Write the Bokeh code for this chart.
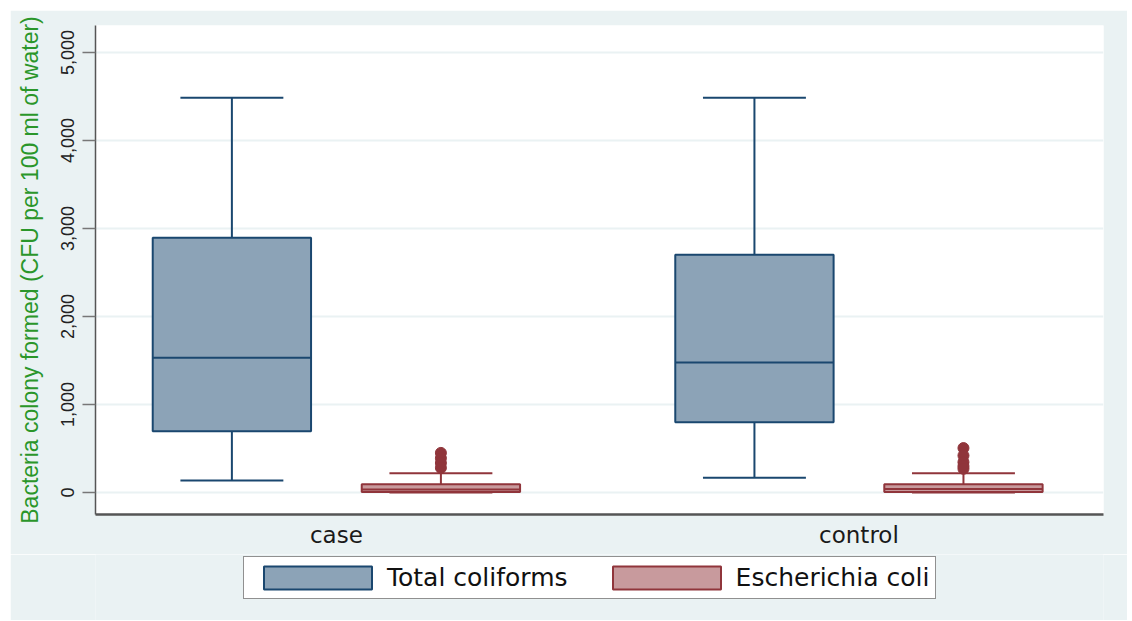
from bokeh.plotting import figure
from bokeh.layouts import column
from bokeh.models import (Range1d, FixedTicker, NumeralTickFormatter, Legend, LegendItem,
                          ColumnDataSource)
from bokeh.embed import file_html
from bokeh.resources import INLINE

# ---------------- data ----------------
groups = ["case", "control"]
series = ["Total coliforms", "Escherichia coli"]

tc_lower = [136, 167]
tc_q1 = [697, 799]
tc_median = [1530, 1477]
tc_q3 = [2894, 2701]
tc_upper = [4485, 4485]

ec_lower = [0, 0]
ec_q1 = [5, 5]
ec_median = [35, 40]
ec_q3 = [95, 95]
ec_upper = [220, 220]

ec_outliers_case = [450, 390, 335, 280]
ec_outliers_control = [505, 420, 345, 300, 270]

y_ticks = [0, 1000, 2000, 3000, 4000, 5000]
y_label = "Bacteria colony formed (CFU per 100 ml of water)"

# ---------------- style / layout ----------------
NAVY = "#1a476f"
NAVY_FILL = "#8ca3b7"
MAROON = "#90353b"
MAROON_FILL = "#c89a9d"
PANEL = "#eaf2f3"

offset = 0.2
box_w = 0.303
cap_w = 0.197

p = figure(output_backend="svg", toolbar_location=None,
           x_range=Range1d(-0.461, 1.468), y_range=Range1d(-250, 5307),
           frame_width=1008, frame_height=489,
           min_border_left=85, min_border_right=24, min_border_top=15, min_border_bottom=40)
p.margin = (10, 0, 0, 10)
p.border_fill_color = PANEL
p.background_fill_color = "white"
p.outline_line_color = None

gx = list(range(len(groups)))


def draw_box(xc, lower, q1, med, q3, upper, line, fill):
    src = ColumnDataSource(dict(
        x=xc, left=[x - box_w / 2 for x in xc], right=[x + box_w / 2 for x in xc],
        cl=[x - cap_w / 2 for x in xc], cr=[x + cap_w / 2 for x in xc],
        lower=lower, q1=q1, med=med, q3=q3, upper=upper))
    p.segment(x0="x", x1="x", y0="q3", y1="upper", source=src, line_color=line, line_width=2)
    p.segment(x0="x", x1="x", y0="lower", y1="q1", source=src, line_color=line, line_width=2)
    p.segment(x0="cl", x1="cr", y0="upper", y1="upper", source=src, line_color=line, line_width=2)
    p.segment(x0="cl", x1="cr", y0="lower", y1="lower", source=src, line_color=line, line_width=2)
    r = p.quad(left="left", right="right", bottom="q1", top="q3", source=src,
               fill_color=fill, line_color=line, line_width=2)
    p.segment(x0="left", x1="right", y0="med", y1="med", source=src, line_color=line, line_width=2)
    return r


draw_box([g - offset for g in gx], tc_lower, tc_q1, tc_median, tc_q3, tc_upper, NAVY, NAVY_FILL)
draw_box([g + offset for g in gx], ec_lower, ec_q1, ec_median, ec_q3, ec_upper, MAROON, MAROON_FILL)

ox = [gx[0] + offset] * len(ec_outliers_case) + [gx[1] + offset] * len(ec_outliers_control)
oy = ec_outliers_case + ec_outliers_control
p.scatter(ox, oy, size=11, marker="circle", fill_color=MAROON, line_color=MAROON)

# ---------------- axes ----------------
p.xgrid.visible = False
p.ygrid.grid_line_color = PANEL
p.ygrid.grid_line_width = 2
p.ygrid.ticker = FixedTicker(ticks=y_ticks)

ya = p.yaxis[0]
ya.ticker = FixedTicker(ticks=y_ticks)
ya.formatter = NumeralTickFormatter(format="0,0")
ya.major_label_orientation = "vertical"
ya.major_label_text_font = "Liberation Sans"
ya.major_label_text_font_size = "18px"
ya.major_label_text_color = "#222222"
ya.major_tick_out = 13
ya.major_tick_in = 0
ya.major_tick_line_color = "#777777"
ya.major_tick_line_width = 1.5
ya.minor_tick_line_color = None
ya.axis_line_color = "#555555"
ya.axis_line_width = 1.5
ya.major_label_standoff = 8
ya.axis_label = y_label
ya.axis_label_text_font = "Liberation Sans"
ya.axis_label_text_font_size = "23px"
ya.axis_label_text_font_style = "normal"
ya.axis_label_text_color = "#2a962a"
ya.axis_label_standoff = 16

xa = p.xaxis[0]
xa.ticker = FixedTicker(ticks=gx)
xa.major_label_overrides = {g: name for g, name in zip(gx, groups)}
xa.major_label_text_font = "DejaVu Sans"
xa.major_label_text_font_size = "23px"
xa.major_label_text_color = "#1a1a1a"
xa.major_tick_line_color = None
xa.minor_tick_line_color = None
xa.major_tick_out = 0
xa.major_label_standoff = 7
xa.axis_line_color = "#555555"
xa.axis_line_width = 2.5

# ---------------- legend strip (same grey panel, below the plot) ----------------
lf = figure(width=1117, height=66, output_backend="svg", toolbar_location=None,
            x_axis_type=None, y_axis_type=None,
            x_range=Range1d(0, 1), y_range=Range1d(0, 1),
            min_border_left=0, min_border_right=0, min_border_top=0, min_border_bottom=0)
lf.margin = (0, 0, 0, 10)
lf.border_fill_color = PANEL
lf.background_fill_color = PANEL
lf.outline_line_color = None
lf.xgrid.visible = False
lf.ygrid.visible = False

# legend keys: renderers with no drawable geometry that carry the series styles
nan = float("nan")
k_tc = lf.quad(left=[nan], right=[nan], bottom=[nan], top=[nan],
               fill_color=NAVY_FILL, line_color=NAVY, line_width=2)
k_ec = lf.quad(left=[nan], right=[nan], bottom=[nan], top=[nan],
               fill_color=MAROON_FILL, line_color=MAROON, line_width=2)

legend = Legend(items=[LegendItem(label=series[0], renderers=[k_tc]),
                       LegendItem(label=series[1], renderers=[k_ec])],
                orientation="horizontal", location=(148, 21))
legend.label_text_font = "DejaVu Sans"
legend.label_text_font_size = "25px"
legend.label_text_color = "#111111"
legend.glyph_width = 135
legend.glyph_height = 29
legend.label_standoff = 2
legend.spacing = 31
legend.padding = 6
legend.margin = 0
legend.border_line_color = "#222222"
legend.border_line_width = 1.5
legend.background_fill_color = "white"
legend.background_fill_alpha = 1
lf.add_layout(legend, "center")

layout = column(p, lf, spacing=0)
open("out.html", "w").write(file_html(layout, INLINE))
